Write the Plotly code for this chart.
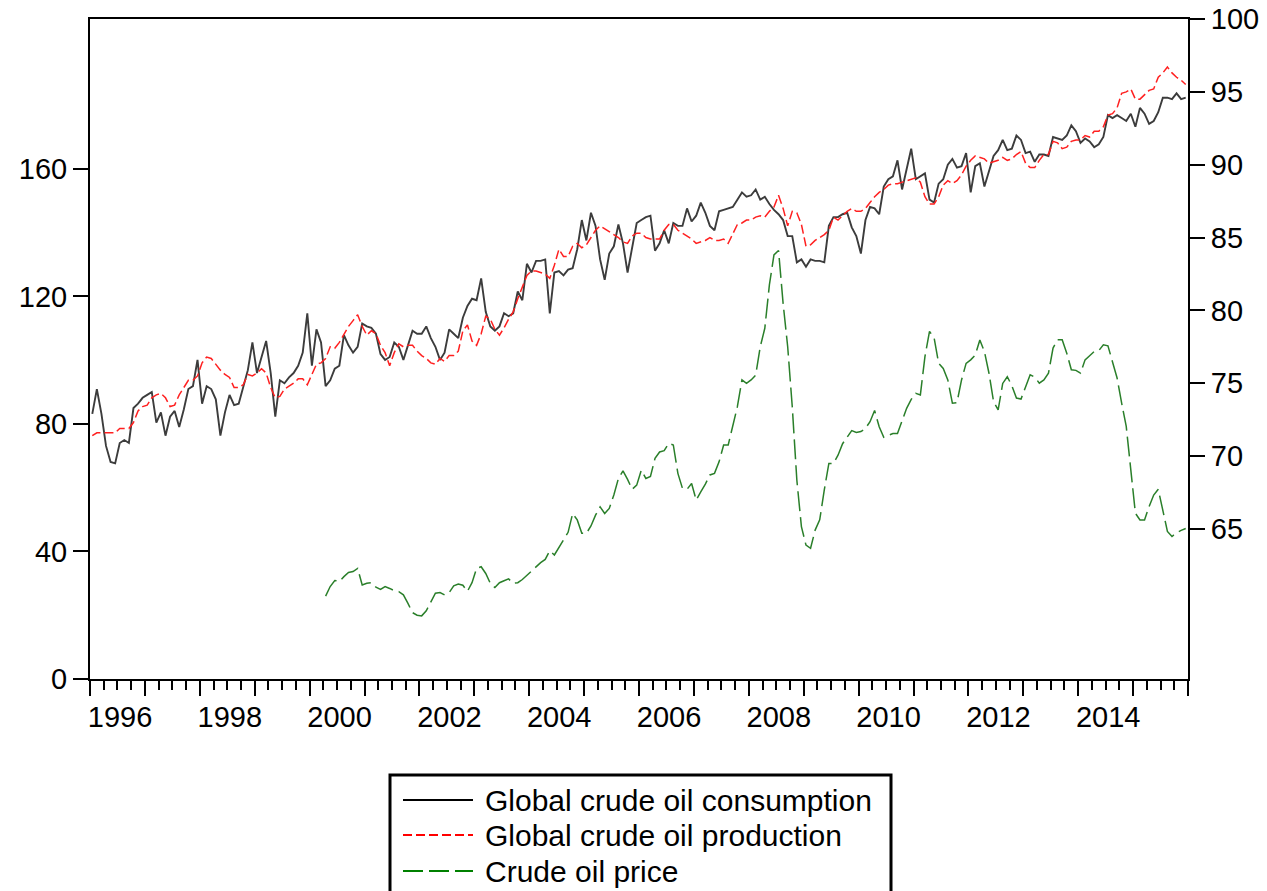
import plotly.graph_objects as go

# ---- data (monthly, Jan 1996 - Dec 2015) ----
start_year = 1996
n_months = 240

consumption = [
    72.9, 74.6, 72.9, 70.7, 69.6, 69.5, 70.9, 71.1, 70.9, 73.3, 73.6, 74.0,
    74.2, 74.4, 72.3, 73.0, 71.4, 72.7, 73.1, 72.0, 73.2, 74.6, 74.8, 76.6,
    73.6, 74.8, 74.6, 73.9, 71.4, 73.0, 74.2, 73.5, 73.6, 74.8, 75.9, 77.8,
    75.7, 76.8, 77.9, 75.7, 72.7, 75.2, 75.0, 75.4, 75.7, 76.2, 77.1, 79.8,
    76.2, 78.7, 77.8, 74.8, 75.2, 76.0, 76.2, 78.3, 77.6, 77.1, 77.5, 79.1,
    78.9, 78.8, 78.4, 77.0, 76.6, 76.8, 77.8, 77.5, 76.6, 77.6, 78.6, 78.4,
    78.4, 78.9, 78.1, 77.5, 76.6, 77.1, 78.7, 78.4, 78.1, 79.5, 80.3, 80.8,
    80.7, 82.2, 79.9, 78.9, 78.6, 78.9, 79.8, 79.6, 79.8, 81.3, 80.7, 83.2,
    82.6, 83.4, 83.4, 83.5, 79.8, 82.6, 82.7, 82.4, 82.8, 82.9, 84.2, 86.2,
    84.8, 86.7, 85.8, 83.5, 82.1, 83.9, 84.4, 85.9, 84.6, 82.6, 84.2, 86.0,
    86.2, 86.4, 86.5, 84.1, 84.6, 85.5, 84.6, 86.0, 85.8, 85.8, 87.0, 86.1,
    86.5, 87.4, 86.7, 85.8, 85.5, 86.8, 86.9, 87.0, 87.1, 87.6, 88.1, 87.8,
    87.9, 88.3, 87.6, 87.8, 87.3, 86.9, 86.6, 86.2, 85.1, 85.1, 83.3, 83.5,
    83.0, 83.5, 83.4, 83.4, 83.3, 85.8, 86.4, 86.4, 86.6, 86.7, 85.7, 85.1,
    83.9, 86.2, 87.1, 87.0, 86.6, 88.5, 89.0, 89.2, 90.3, 88.3, 89.7, 91.1,
    89.0, 89.2, 89.4, 87.6, 87.4, 88.7, 89.0, 90.0, 90.4, 89.8, 89.9, 90.8,
    88.1, 89.9, 90.1, 88.5, 89.5, 90.6, 91.0, 91.7, 91.0, 91.1, 92.0, 91.7,
    90.8, 90.9, 90.2, 90.7, 90.7, 90.6, 91.9, 91.8, 91.7, 92.0, 92.7, 92.3,
    91.5, 91.8, 91.6, 91.2, 91.4, 91.9, 93.4, 93.2, 93.4, 93.2, 93.0, 93.5,
    92.6, 93.9, 93.5, 92.8, 93.0, 93.6, 94.6, 94.6, 94.5, 94.9, 94.5, 94.6,
]

production = [
    71.4, 71.6, 71.6, 71.6, 71.6, 71.6, 71.9, 71.9, 71.9, 72.3, 73.1, 73.4,
    73.5, 74.0, 74.2, 74.3, 74.0, 73.4, 73.5, 74.2, 74.7, 75.2, 75.2, 75.5,
    76.4, 76.8, 76.7, 76.3, 75.9, 75.6, 75.4, 74.7, 74.7, 74.9, 75.6, 75.5,
    75.7, 76.0, 75.7, 74.7, 74.0, 74.1, 74.6, 74.8, 75.0, 75.3, 75.3, 74.9,
    75.6, 76.3, 76.4, 76.7, 77.5, 77.4, 77.8, 78.4, 78.9, 79.3, 79.7, 78.9,
    78.3, 78.6, 78.4, 77.6, 77.1, 76.2, 77.1, 77.7, 77.5, 77.6, 77.6, 77.2,
    76.9, 76.7, 76.4, 76.3, 76.7, 76.5, 76.9, 76.9, 77.2, 78.6, 79.0, 77.9,
    77.6, 78.4, 79.6, 79.4, 78.7, 78.3, 78.8, 79.4, 79.9, 80.8, 81.6, 82.4,
    82.7, 82.7, 82.6, 82.5, 82.2, 83.1, 84.2, 83.7, 83.7, 84.4, 84.6, 84.3,
    84.5, 85.0, 85.5, 85.8, 85.6, 85.4, 85.2, 85.0, 84.7, 84.6, 85.1, 85.3,
    85.3, 85.0, 84.9, 84.9, 84.9, 85.5, 85.9, 85.9, 85.5, 85.3, 85.1, 84.9,
    84.6, 84.7, 84.8, 85.0, 84.8, 84.8, 84.9, 84.6, 85.3, 85.9, 86.0, 86.2,
    86.2, 86.4, 86.5, 86.4, 86.8, 87.1, 87.9, 87.0, 85.8, 86.8, 86.7, 85.9,
    84.4, 84.5, 84.8, 85.0, 85.2, 85.5, 86.4, 86.2, 86.5, 86.8, 87.0, 86.8,
    86.8, 87.0, 87.4, 87.8, 88.1, 88.3, 88.6, 88.7, 88.7, 88.8, 88.9, 89.0,
    89.1, 88.8, 87.8, 87.3, 87.3, 87.8, 88.6, 88.9, 88.7, 88.9, 89.3, 89.9,
    90.3, 90.6, 90.5, 90.4, 90.1, 90.2, 90.3, 90.5, 90.3, 90.4, 90.7, 90.9,
    90.1, 89.8, 89.8, 90.3, 90.7, 90.7, 91.6, 91.5, 91.1, 91.2, 91.6, 91.7,
    91.7, 92.0, 91.9, 92.3, 92.3, 92.6, 93.4, 93.5, 93.9, 94.9, 95.0, 95.2,
    94.5, 94.5, 94.8, 95.1, 95.2, 96.0, 96.3, 96.7, 96.3, 96.0, 95.8, 95.5,
]

price_start_month = 51  # April 2000
price = [
    26.0, 29.0, 30.9, 30.6, 32.1, 33.4, 33.7, 34.7, 29.5,
    30.0, 30.2, 28.8, 28.1, 29.0, 28.4, 27.7, 27.4, 26.4, 23.7, 20.8, 20.0,
    19.8, 21.4, 24.0, 26.9, 27.1, 26.4, 27.1, 29.2, 29.8, 29.4, 27.5, 30.2,
    34.7, 35.2, 33.1, 30.0, 28.7, 30.2, 30.8, 31.4, 30.0, 30.2, 31.2, 32.6,
    33.9, 35.2, 36.5, 37.5, 40.2, 38.9, 41.3, 43.6, 46.0, 51.9, 49.9, 45.7,
    45.7, 48.0, 51.4, 54.0, 51.9, 53.5, 57.7, 62.9, 65.3, 62.6, 59.5, 60.8,
    65.5, 62.9, 63.5, 69.2, 71.2, 71.6, 73.9, 73.4, 64.5, 59.8, 59.5, 61.3,
    56.1, 58.7, 61.1, 64.0, 64.5, 68.1, 73.4, 73.4, 79.7, 85.4, 93.8, 92.7,
    93.8, 95.3, 104.2, 110.0, 123.6, 133.0, 134.4, 117.8, 104.2, 85.4, 62.4, 47.8,
    42.0, 41.0, 46.7, 49.9, 59.3, 67.6, 67.6, 70.2, 73.8, 76.0, 77.9, 77.3,
    77.6, 78.6, 80.7, 84.2, 79.1, 75.8, 76.5, 77.0, 77.0, 81.2, 84.9, 87.7,
    89.6, 89.1, 101.1, 109.0, 107.0, 99.0, 97.4, 93.8, 86.5, 86.7, 93.8, 99.0,
    100.1, 101.6, 106.3, 102.7, 95.9, 87.0, 84.4, 92.7, 94.8, 92.0, 88.1, 87.8,
    91.7, 95.4, 94.7, 92.8, 93.8, 95.9, 103.8, 106.4, 106.4, 102.2, 97.0, 96.8,
    95.9, 100.1, 101.4, 102.7, 103.0, 104.8, 104.5, 99.6, 94.4, 86.5, 79.2, 65.6,
    52.0, 49.9, 49.9, 54.1, 57.7, 59.5, 53.0, 46.3, 44.7, 45.9, 46.6, 47.2,
]

series_names = ["Global crude oil consumption", "Global crude oil production",
                "Crude oil price"]
year_ticks = list(range(1996, 2017))
year_labels = [str(y) if (y % 2 == 0 and y < 2016) else "" for y in year_ticks]
left_ticks = [0, 40, 80, 120, 160]
right_ticks = [65, 70, 75, 80, 85, 90, 95, 100]

# month mid-points as decimal years
months_x = [start_year + (i + 0.5) / 12 for i in range(n_months)]
price_x = months_x[price_start_month:price_start_month + len(price)]

FONT = "Arial, Liberation Sans, sans-serif"
W, H = 1267, 891
PL, PR, PT, PB = 90, 1188, 19, 679   # plot-area edges in pixels
ML, MR, MT, MB = PL, W - PR, PT, H - PB
PW, PH = PR - PL, PB - PT

styles = [
    dict(color="#3c3c3c", width=1.9, dash="solid"),
    dict(color="#ff2020", width=1.5, dash="9px,4px"),
    dict(color="#2a7f2a", width=1.5, dash="20px,6px"),
]
legend_colors = ["black", "red", "green"]

fig = go.Figure()
fig.add_trace(go.Scatter(x=months_x, y=consumption, yaxis="y2", mode="lines",
                         name=series_names[0], line=styles[0]))
fig.add_trace(go.Scatter(x=months_x, y=production, yaxis="y2", mode="lines",
                         name=series_names[1], line=styles[1]))
fig.add_trace(go.Scatter(x=price_x, y=price, yaxis="y", mode="lines",
                         name=series_names[2], line=styles[2]))

axis_common = dict(
    showgrid=False, zeroline=False, showline=True, linecolor="black",
    linewidth=2, ticks="outside", tickcolor="black", tickwidth=2,
    tickfont=dict(family=FONT, size=29, color="black"), automargin=False,
    ticklabeloverflow="allow",
)

# ---- legend box drawn in paper coordinates (pixel layout -> paper) ----
def px_x(px):
    return (px - PL) / PW

def px_y(py):
    return (PB - py) / PH

shapes = [dict(type="rect", xref="paper", yref="paper",
               x0=px_x(390), x1=px_x(891), y0=px_y(775), y1=px_y(915),
               line=dict(color="black", width=3), fillcolor="white", layer="above")]
annotations = []
row_y = [800, 835, 871]
for name, st, col, ry in zip(series_names, styles, legend_colors, row_y):
    shapes.append(dict(type="line", xref="paper", yref="paper",
                       x0=px_x(403), x1=px_x(473), y0=px_y(ry), y1=px_y(ry),
                       line=dict(color=col, width=2.2, dash=st["dash"]),
                       layer="above"))
    annotations.append(dict(xref="paper", yref="paper", x=px_x(483), y=px_y(ry),
                            xanchor="left", yanchor="middle", showarrow=False,
                            text=name, font=dict(family=FONT, size=30, color="black")))

fig.update_layout(
    width=W, height=H,
    margin=dict(l=ML, r=MR, t=MT, b=MB, autoexpand=False),
    paper_bgcolor="white", plot_bgcolor="white",
    font=dict(family=FONT, color="black"),
    showlegend=False,
    hovermode=False,
    xaxis=dict(
        **axis_common,
        range=[1996, 2016], mirror=True,
        tickmode="array", tickvals=year_ticks, ticktext=year_labels,
        ticklen=15, ticklabelshift=30, ticklabelstandoff=-4,
        minor=dict(ticks="outside", ticklen=9, tickwidth=2, tickcolor="black",
                   dtick=0.25, tick0=1996, showgrid=False),
    ),
    yaxis=dict(
        **axis_common,
        range=[0, 207], tickmode="array", tickvals=left_ticks,
        ticklen=15, mirror=False,
    ),
    yaxis2=dict(
        **axis_common,
        overlaying="y", side="right", anchor="x",
        range=[54.7, 100], tickmode="array", tickvals=right_ticks,
        ticklen=15,
    ),
    shapes=shapes,
    annotations=annotations,
)

fig.write_html("out.html",
               config={"displayModeBar": False, "staticPlot": True},
               post_script="document.body.style.margin='0';"
                           "document.body.style.overflow='hidden';")
